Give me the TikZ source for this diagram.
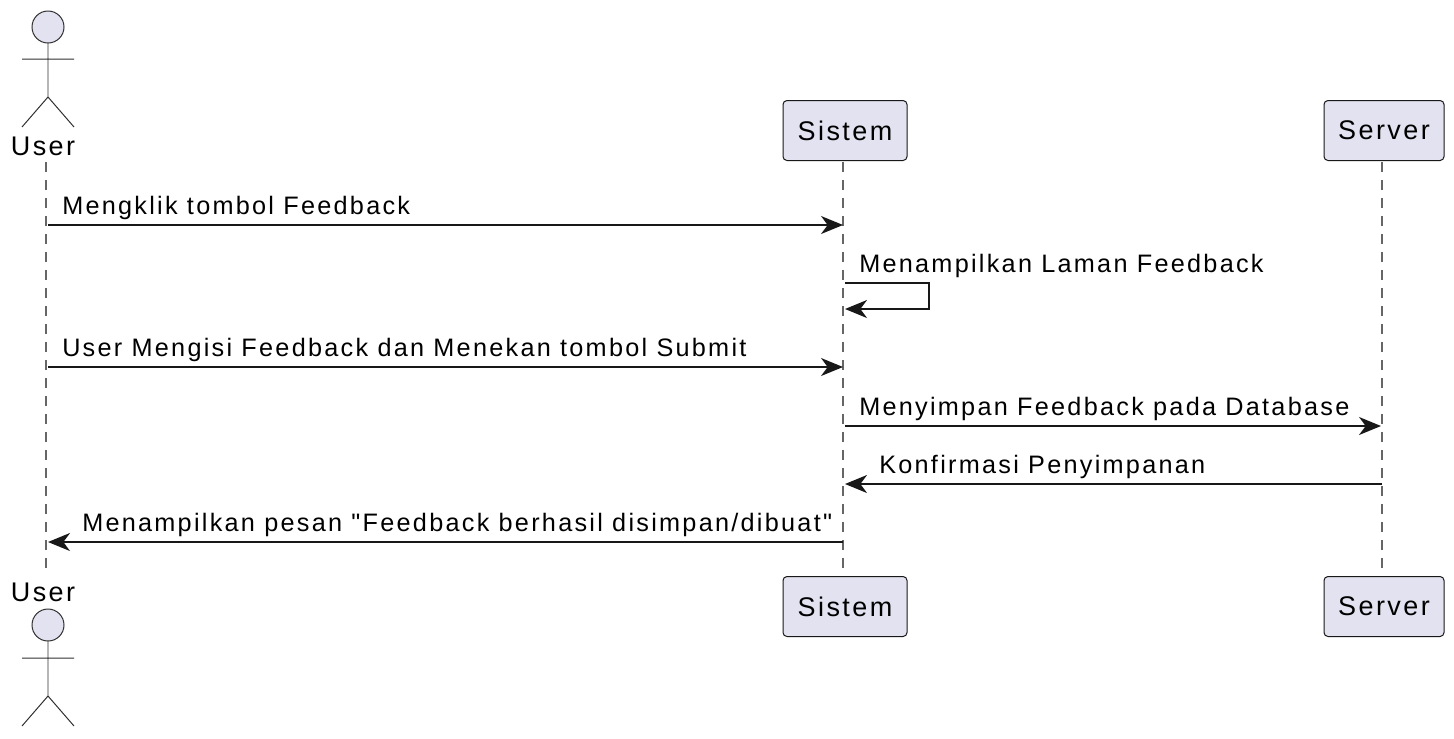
\documentclass[tikz,border=0pt]{standalone}
\usepackage{fontspec}
\newfontfamily\msgfont[LetterSpace=9]{Liberation Sans}
\usetikzlibrary{arrows.meta}
\definecolor{lifefill}{RGB}{226,226,240}
\definecolor{lifeline}{RGB}{24,24,24}
\tikzset{
  participant/.style={draw=lifeline,fill=lifefill,rounded corners=3pt,line width=0.75pt,minimum height=45bp,inner sep=0pt,font=\msgfont\fontsize{20.3}{22}\selectfont,text=black},
  msg/.style={anchor=base west,inner sep=0pt,font=\msgfont\fontsize{19}{20}\selectfont,text=black},
  actorname/.style={anchor=base,inner sep=0pt,font=\msgfont\fontsize{20.3}{22}\selectfont,text=black},
  actorline/.style={draw=lifeline!90,line width=0.75pt},
  lifedash/.style={draw=black!60,line width=0.85pt,dash pattern=on 7.5bp off 6bp},
  call/.style={draw=lifeline,line width=1.3pt,-{Stealth[length=16.5bp,width=13.5bp,inset=5bp]}}
}
\begin{document}
\begin{tikzpicture}[x=0.75bp,y=-0.75bp]
\useasboundingbox (0,0) rectangle (1454,738);
% participants
\node[participant,minimum width=93bp] (sistemTop) at (845,130.5) {Sistem};
\node[participant,minimum width=90bp] (serverTop) at (1384,130.5) {Server};
\node[participant,minimum width=93bp] (sistemBot) at (845,606.5) {Sistem};
\node[participant,minimum width=90bp] (serverBot) at (1384,606.5) {Server};
\node[actorname] (userTop) at (43,155) {User};
\node[actorname] (userBot) at (43,601) {User};
% actors
\draw[actorline,fill=lifefill] (48,27) circle (12bp);
\draw[actorline] (48,43)--(48,97) (22,59)--(74,59) (22,127)--(48,97)--(74,127);
\draw[actorline,fill=lifefill] (48,625) circle (12bp);
\draw[actorline] (48,641)--(48,696) (22,658)--(74,658) (22,726)--(48,696)--(74,726);
% lifelines
\coordinate (userA) at (46,162);
\coordinate (userB) at (46,573);
\coordinate (sistemA) at (843,162);
\coordinate (sistemB) at (843,575);
\coordinate (serverA) at (1382,162);
\coordinate (serverB) at (1382,575);
\draw[lifedash] (userA)--(userB);
\draw[lifedash] (sistemA)--(sistemB);
\draw[lifedash] (serverA)--(serverB);
% message end points
\coordinate (u1) at (48,225);
\coordinate (s1) at (843,225);
\coordinate (s2) at (845,283);
\coordinate (t2) at (929,283);
\coordinate (b2) at (929,309);
\coordinate (e2) at (845,309);
\coordinate (u3) at (48,367);
\coordinate (s3) at (843,367);
\coordinate (s4) at (845,426);
\coordinate (v4) at (1381,426);
\coordinate (v5) at (1382,484);
\coordinate (s5) at (845,484);
\coordinate (s6) at (843,542);
\coordinate (u6) at (48,542);
% messages
\draw[call] (u1)--(s1);
\draw[call] (s2)--(t2)--(b2)--(e2);
\draw[call] (u3)--(s3);
\draw[call] (s4)--(v4);
\draw[call] (v5)--(s5);
\draw[call] (s6)--(u6);
\node[msg] (m1) at (62,214) {Mengklik tombol Feedback};
\node[msg] (m2) at (859,272) {Menampilkan Laman Feedback};
\node[msg] (m3) at (62,356) {User Mengisi Feedback dan Menekan tombol Submit};
\node[msg] (m4) at (859,415) {Menyimpan Feedback pada Database};
\node[msg] (m5) at (879,473) {Konfirmasi Penyimpanan};
\node[msg] (m6) at (82,531) {Menampilkan pesan "Feedback berhasil disimpan/dibuat"};
\end{tikzpicture}
\end{document}
